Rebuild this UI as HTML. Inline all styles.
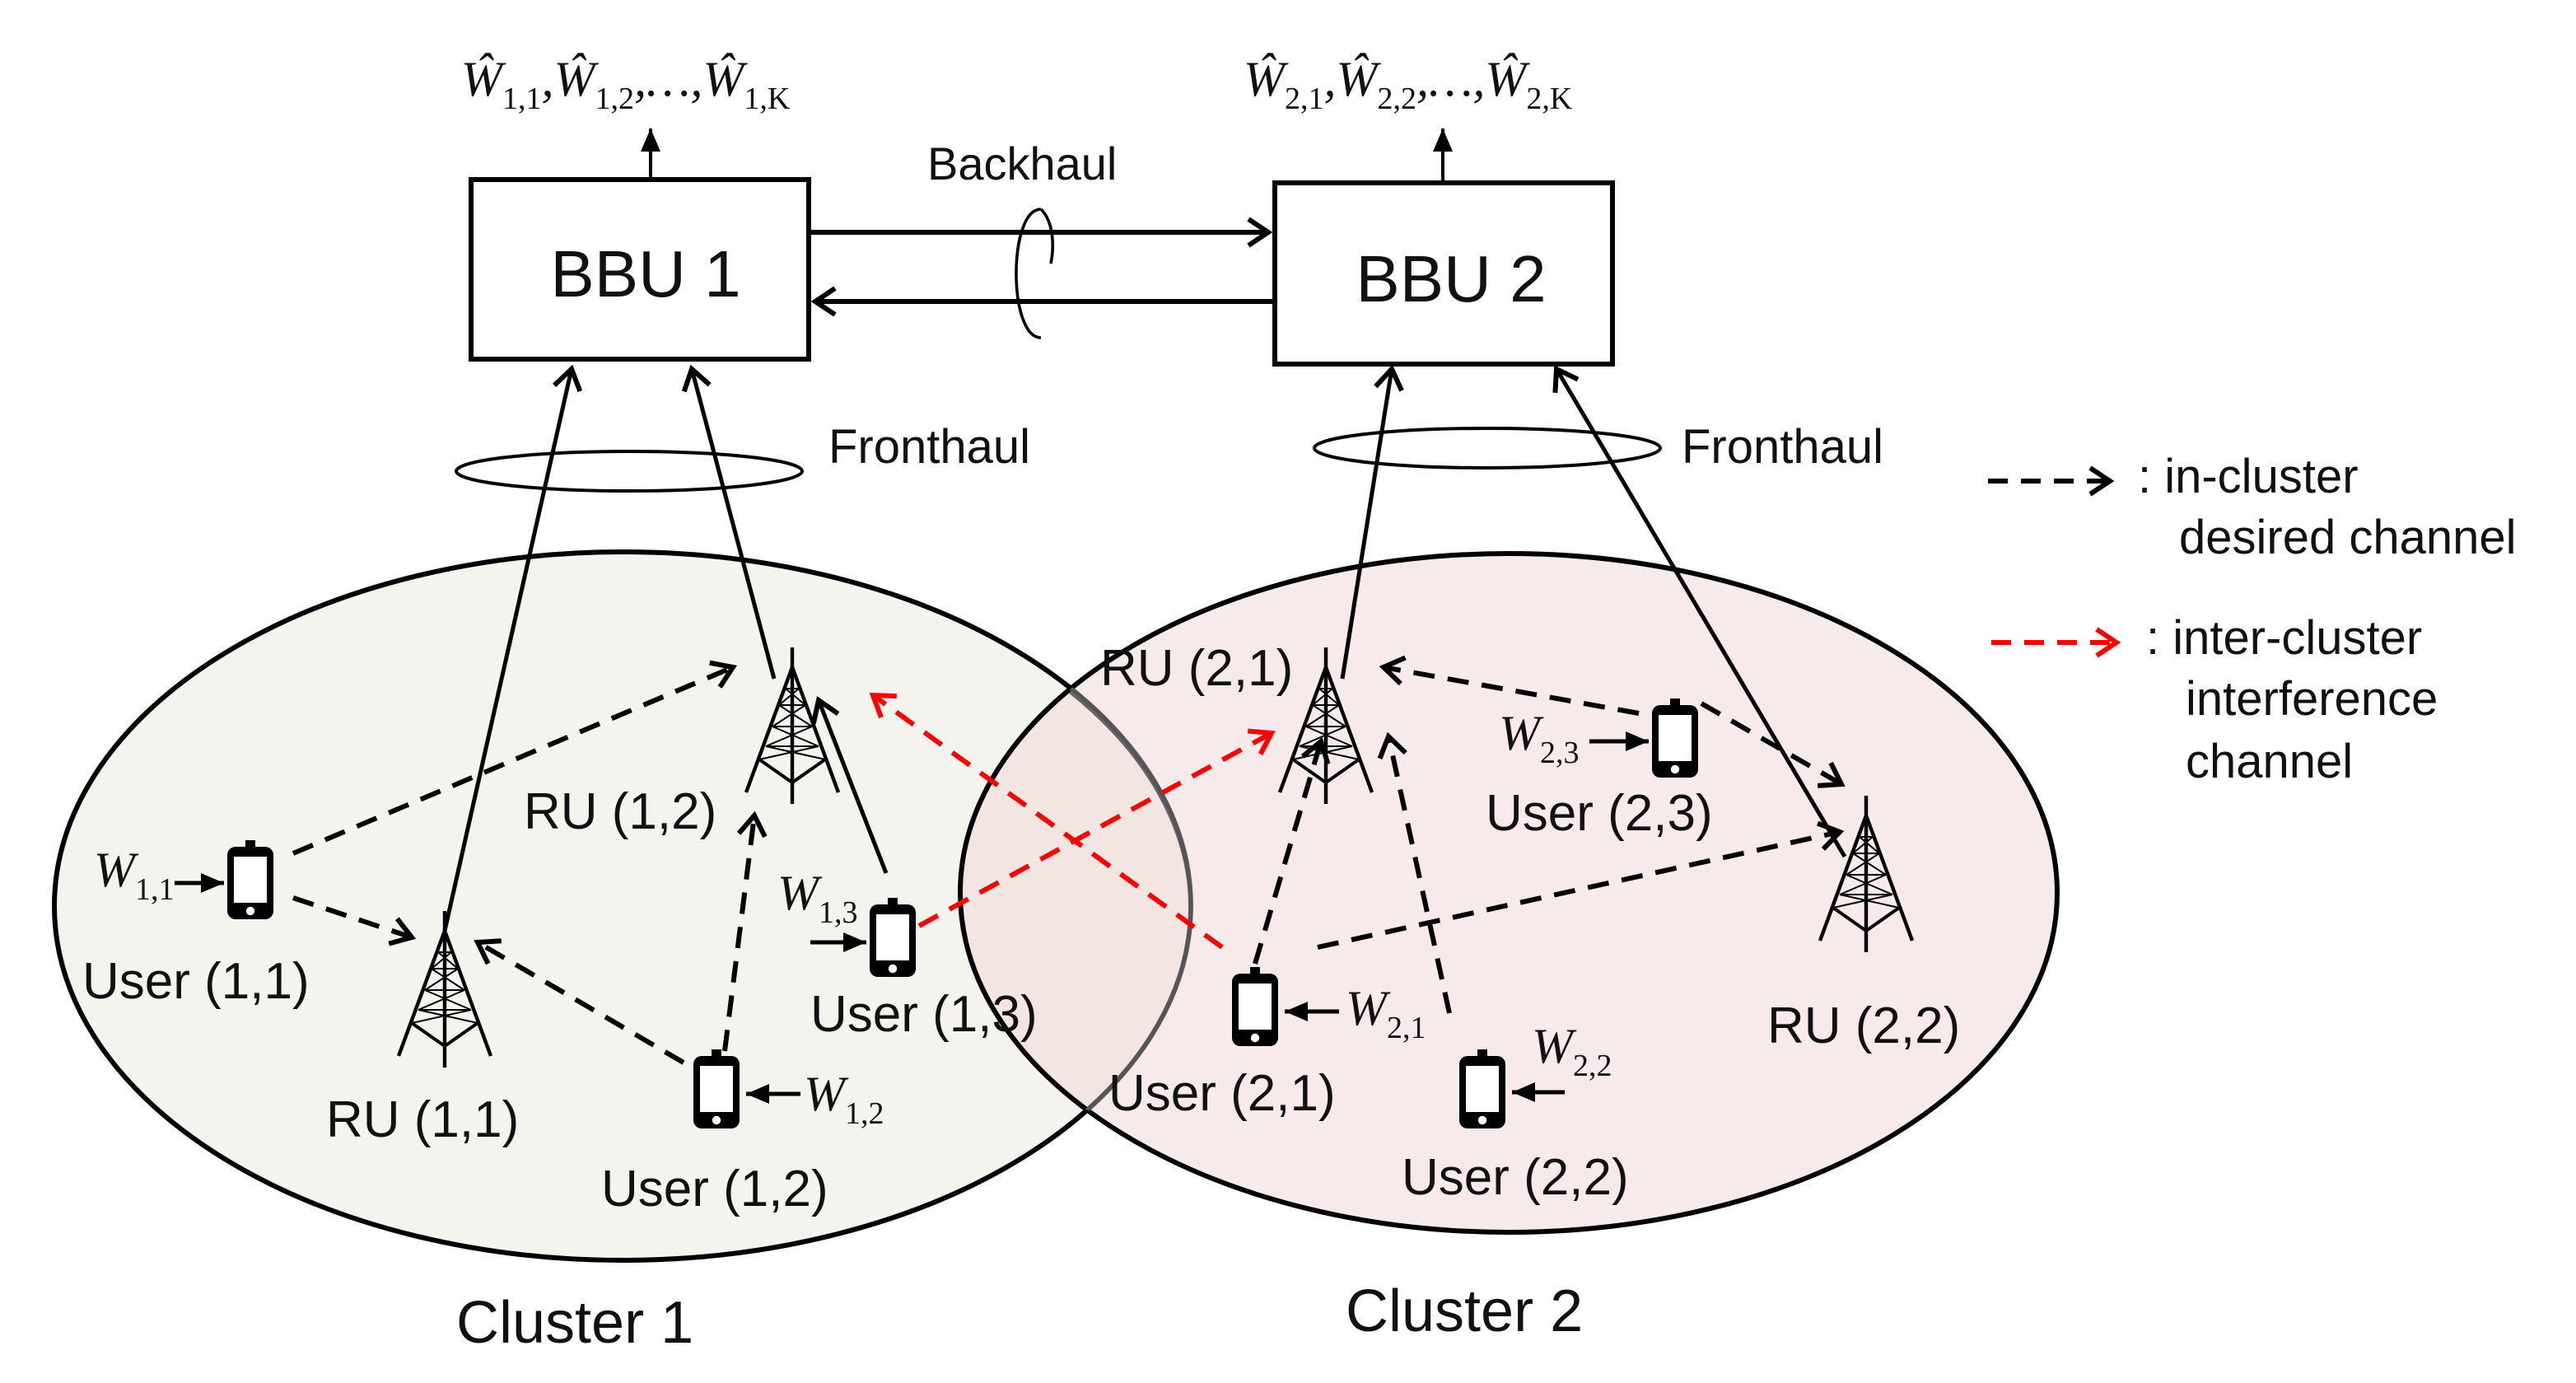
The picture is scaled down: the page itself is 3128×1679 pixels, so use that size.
<!DOCTYPE html>
<html><head><meta charset="utf-8"><style>
html,body{margin:0;padding:0;background:#fff;}
svg{display:block;}
text{font-family:"Liberation Sans",sans-serif;fill:#111;}
.lbl{font-size:31px;}
.w{font-family:"Liberation Serif",serif;font-style:italic;font-size:30px;}
.sub{font-family:"Liberation Serif",serif;font-style:normal;font-size:19px;}
</style></head><body>
<svg width="3128" height="1679" viewBox="0 0 1564 839.5" xmlns="http://www.w3.org/2000/svg">
<defs>
<marker id="op" markerUnits="userSpaceOnUse" markerWidth="30" markerHeight="30" refX="20" refY="10" orient="auto" viewBox="0 0 30 20">
<path d="M8,2 L20,10 L8,18" fill="none" stroke="#000" stroke-width="3"/></marker>
<marker id="opr" markerUnits="userSpaceOnUse" markerWidth="30" markerHeight="30" refX="20" refY="10" orient="auto" viewBox="0 0 30 20">
<path d="M8,2 L20,10 L8,18" fill="none" stroke="#f00" stroke-width="3"/></marker>
<marker id="fl" markerUnits="userSpaceOnUse" markerWidth="16" markerHeight="16" refX="14" refY="6" orient="auto" viewBox="0 0 16 12">
<path d="M0,0 L14,6 L0,12 Z" fill="#000"/></marker>
<g id="tower" stroke="#000" fill="none" stroke-width="1.6">
<line x1="0" y1="0" x2="0" y2="95" stroke-width="2.2"/>
<line x1="0" y1="12" x2="-28" y2="88" stroke-width="2.2"/>
<line x1="0" y1="12" x2="28" y2="88" stroke-width="2.2"/>
<path d="M-20,68 L0,82 L20,68" stroke-width="2"/>
<path d="M-4,25 L8,35 M4,25 L-8,35 M-8,35 L12,48 M8,35 L-12,48 M-12,48 L16,60 M12,48 L-16,60 M-16,60 L20,68 M16,60 L-20,68" stroke-width="1"/>
<path d="M-4,25 H4 M-8,35 H8 M-12,48 H12 M-16,60 H16" stroke-width="1"/>
</g>
<g id="phone">
<rect x="-3" y="-25" width="6" height="6" fill="#000"/>
<rect x="-14" y="-21" width="28" height="44" rx="5" fill="#000"/>
<rect x="-10" y="-15" width="20" height="28" fill="#fff"/>
<circle cx="0" cy="18" r="2.6" fill="#fff"/>
</g>
</defs>

<!-- clusters -->
<ellipse cx="378" cy="550" rx="345" ry="215" fill="#f4f3ee" stroke="#000" stroke-width="3"/>
<ellipse cx="916" cy="542" rx="333" ry="206" fill="#f1d9d9" fill-opacity="0.55" stroke="#000" stroke-width="3"/>
<path d="M 723 550 A 345 215 0 0 0 650 420" fill="none" stroke="#666" stroke-width="2.5"/>
<ellipse cx="378" cy="550" rx="345" ry="215" fill="none" stroke="#555" stroke-width="2.5" clip-path="url(#c2)"/>
<clipPath id="c2"><ellipse cx="916" cy="542" rx="333" ry="206"/></clipPath>

<!-- BBUs -->
<rect x="286" y="109" width="205" height="109" fill="#fff" stroke="#000" stroke-width="3"/>
<rect x="774" y="111" width="205" height="110" fill="#fff" stroke="#000" stroke-width="3"/>
<text x="392" y="180" font-size="40" text-anchor="middle">BBU 1</text>
<text x="881" y="183" font-size="40" text-anchor="middle">BBU 2</text>
<line x1="395" y1="108" x2="395" y2="78" stroke="#000" stroke-width="2" marker-end="url(#fl)"/>
<line x1="876" y1="110" x2="876" y2="78" stroke="#000" stroke-width="2" marker-end="url(#fl)"/>
<text x="280" y="58" class="w">Ŵ<tspan class="sub" dy="8">1,1</tspan><tspan dy="-8">,Ŵ</tspan><tspan class="sub" dy="8">1,2</tspan><tspan dy="-8">,…,Ŵ</tspan><tspan class="sub" dy="8">1,</tspan><tspan class="sub" font-style="italic">K</tspan></text>
<text x="755" y="58" class="w">Ŵ<tspan class="sub" dy="8">2,1</tspan><tspan dy="-8">,Ŵ</tspan><tspan class="sub" dy="8">2,2</tspan><tspan dy="-8">,…,Ŵ</tspan><tspan class="sub" dy="8">2,</tspan><tspan class="sub" font-style="italic">K</tspan></text>

<!-- backhaul -->
<text x="563" y="109" font-size="28">Backhaul</text>
<line x1="491" y1="141" x2="770" y2="141" stroke="#000" stroke-width="3" marker-end="url(#op)"/>
<line x1="774" y1="183" x2="495" y2="183" stroke="#000" stroke-width="3" marker-end="url(#op)"/>
<path d="M632,127 C612,127 612,205 632,205" fill="none" stroke="#000" stroke-width="1.8"/>
<path d="M632,127 C640,135 640,150 638,160" fill="none" stroke="#000" stroke-width="1.8"/>

<!-- fronthaul -->
<ellipse cx="382" cy="286" rx="105" ry="12" fill="none" stroke="#000" stroke-width="2"/>
<ellipse cx="903" cy="272" rx="105" ry="12" fill="none" stroke="#000" stroke-width="2"/>
<text x="503" y="281" font-size="29">Fronthaul</text>
<text x="1021" y="281" font-size="29">Fronthaul</text>

<!-- towers -->
<use href="#tower" x="270" y="553"/>
<use href="#tower" x="481" y="393"/>
<use href="#tower" x="805" y="393"/>
<use href="#tower" x="1133" y="483"/>

<!-- fronthaul links -->
<g stroke="#000" stroke-width="2.5" fill="none">
<line x1="270" y1="565" x2="347" y2="224" marker-end="url(#op)"/>
<line x1="470" y1="412" x2="420" y2="224" marker-end="url(#op)"/>
<line x1="815" y1="412" x2="845" y2="224" marker-end="url(#op)"/>
<line x1="1120" y1="520" x2="945" y2="224" marker-end="url(#op)"/>
<line x1="538" y1="530" x2="497" y2="425" marker-end="url(#op)"/>
</g>

<!-- dashed in-cluster -->
<g stroke="#000" stroke-width="3" stroke-dasharray="13,8" fill="none">
<line x1="178" y1="518" x2="445" y2="405" marker-end="url(#op)"/>
<line x1="178" y1="545" x2="250" y2="569" marker-end="url(#op)"/>
<line x1="415" y1="645" x2="290" y2="572" marker-end="url(#op)"/>
<line x1="440" y1="638" x2="458" y2="495" marker-end="url(#op)"/>
<line x1="762" y1="585" x2="802" y2="450" marker-end="url(#op)"/>
<line x1="880" y1="615" x2="843" y2="447" marker-end="url(#op)"/>
<line x1="800" y1="575" x2="1117" y2="505" marker-end="url(#op)"/>
<line x1="1033" y1="427" x2="1118" y2="476" marker-end="url(#op)"/>
<line x1="995" y1="433" x2="840" y2="405" marker-end="url(#op)"/>
</g>
<g stroke="#f00" stroke-width="3" stroke-dasharray="13,8" fill="none">
<line x1="558" y1="562" x2="772" y2="445" marker-end="url(#opr)"/>
<line x1="742" y1="575" x2="530" y2="422" marker-end="url(#opr)"/>
</g>

<!-- phones -->
<use href="#phone" x="152" y="535"/>
<use href="#phone" x="542" y="570"/>
<use href="#phone" x="435" y="662"/>
<use href="#phone" x="762" y="612"/>
<use href="#phone" x="900" y="662"/>
<use href="#phone" x="1017" y="449"/>

<!-- W input arrows -->
<g stroke="#000" stroke-width="2.5">
<line x1="106" y1="536" x2="136" y2="536" marker-end="url(#fl)"/>
<line x1="492" y1="572" x2="526" y2="572" marker-end="url(#fl)"/>
<line x1="486" y1="664" x2="453" y2="664" marker-end="url(#fl)"/>
<line x1="813" y1="614" x2="780" y2="614" marker-end="url(#fl)"/>
<line x1="950" y1="663" x2="918" y2="663" marker-end="url(#fl)"/>
<line x1="965" y1="450" x2="1001" y2="450" marker-end="url(#fl)"/>
</g>
<text x="57" y="538" class="w">W<tspan class="sub" dy="8">1,1</tspan></text>
<text x="472" y="552" class="w">W<tspan class="sub" dy="8">1,3</tspan></text>
<text x="488" y="674" class="w">W<tspan class="sub" dy="8">1,2</tspan></text>
<text x="817" y="622" class="w">W<tspan class="sub" dy="8">2,1</tspan></text>
<text x="930" y="645" class="w">W<tspan class="sub" dy="8">2,2</tspan></text>
<text x="910" y="455" class="w">W<tspan class="sub" dy="8">2,3</tspan></text>

<!-- labels -->
<text x="50" y="606" class="lbl">User (1,1)</text>
<text x="198" y="690" class="lbl">RU (1,1)</text>
<text x="318" y="503" class="lbl">RU (1,2)</text>
<text x="492" y="626" class="lbl">User (1,3)</text>
<text x="365" y="732" class="lbl">User (1,2)</text>
<text x="668" y="416" class="lbl">RU (2,1)</text>
<text x="902" y="504" class="lbl">User (2,3)</text>
<text x="673" y="674" class="lbl">User (2,1)</text>
<text x="851" y="725" class="lbl">User (2,2)</text>
<text x="1073" y="633" class="lbl">RU (2,2)</text>
<text x="277" y="815" font-size="36">Cluster 1</text>
<text x="817" y="808" font-size="36">Cluster 2</text>

<!-- legend -->
<line x1="1207" y1="292" x2="1281" y2="292" stroke="#000" stroke-width="3" stroke-dasharray="12,8" marker-end="url(#op)"/>
<text x="1298" y="299" font-size="29">: in-cluster</text>
<text x="1323" y="336" font-size="29">desired channel</text>
<line x1="1209" y1="390" x2="1285" y2="390" stroke="#f00" stroke-width="3" stroke-dasharray="12,8" marker-end="url(#opr)"/>
<text x="1303" y="397" font-size="29">: inter-cluster</text>
<text x="1327" y="434" font-size="29">interference</text>
<text x="1327" y="472" font-size="29">channel</text>
</svg>
</body></html>
